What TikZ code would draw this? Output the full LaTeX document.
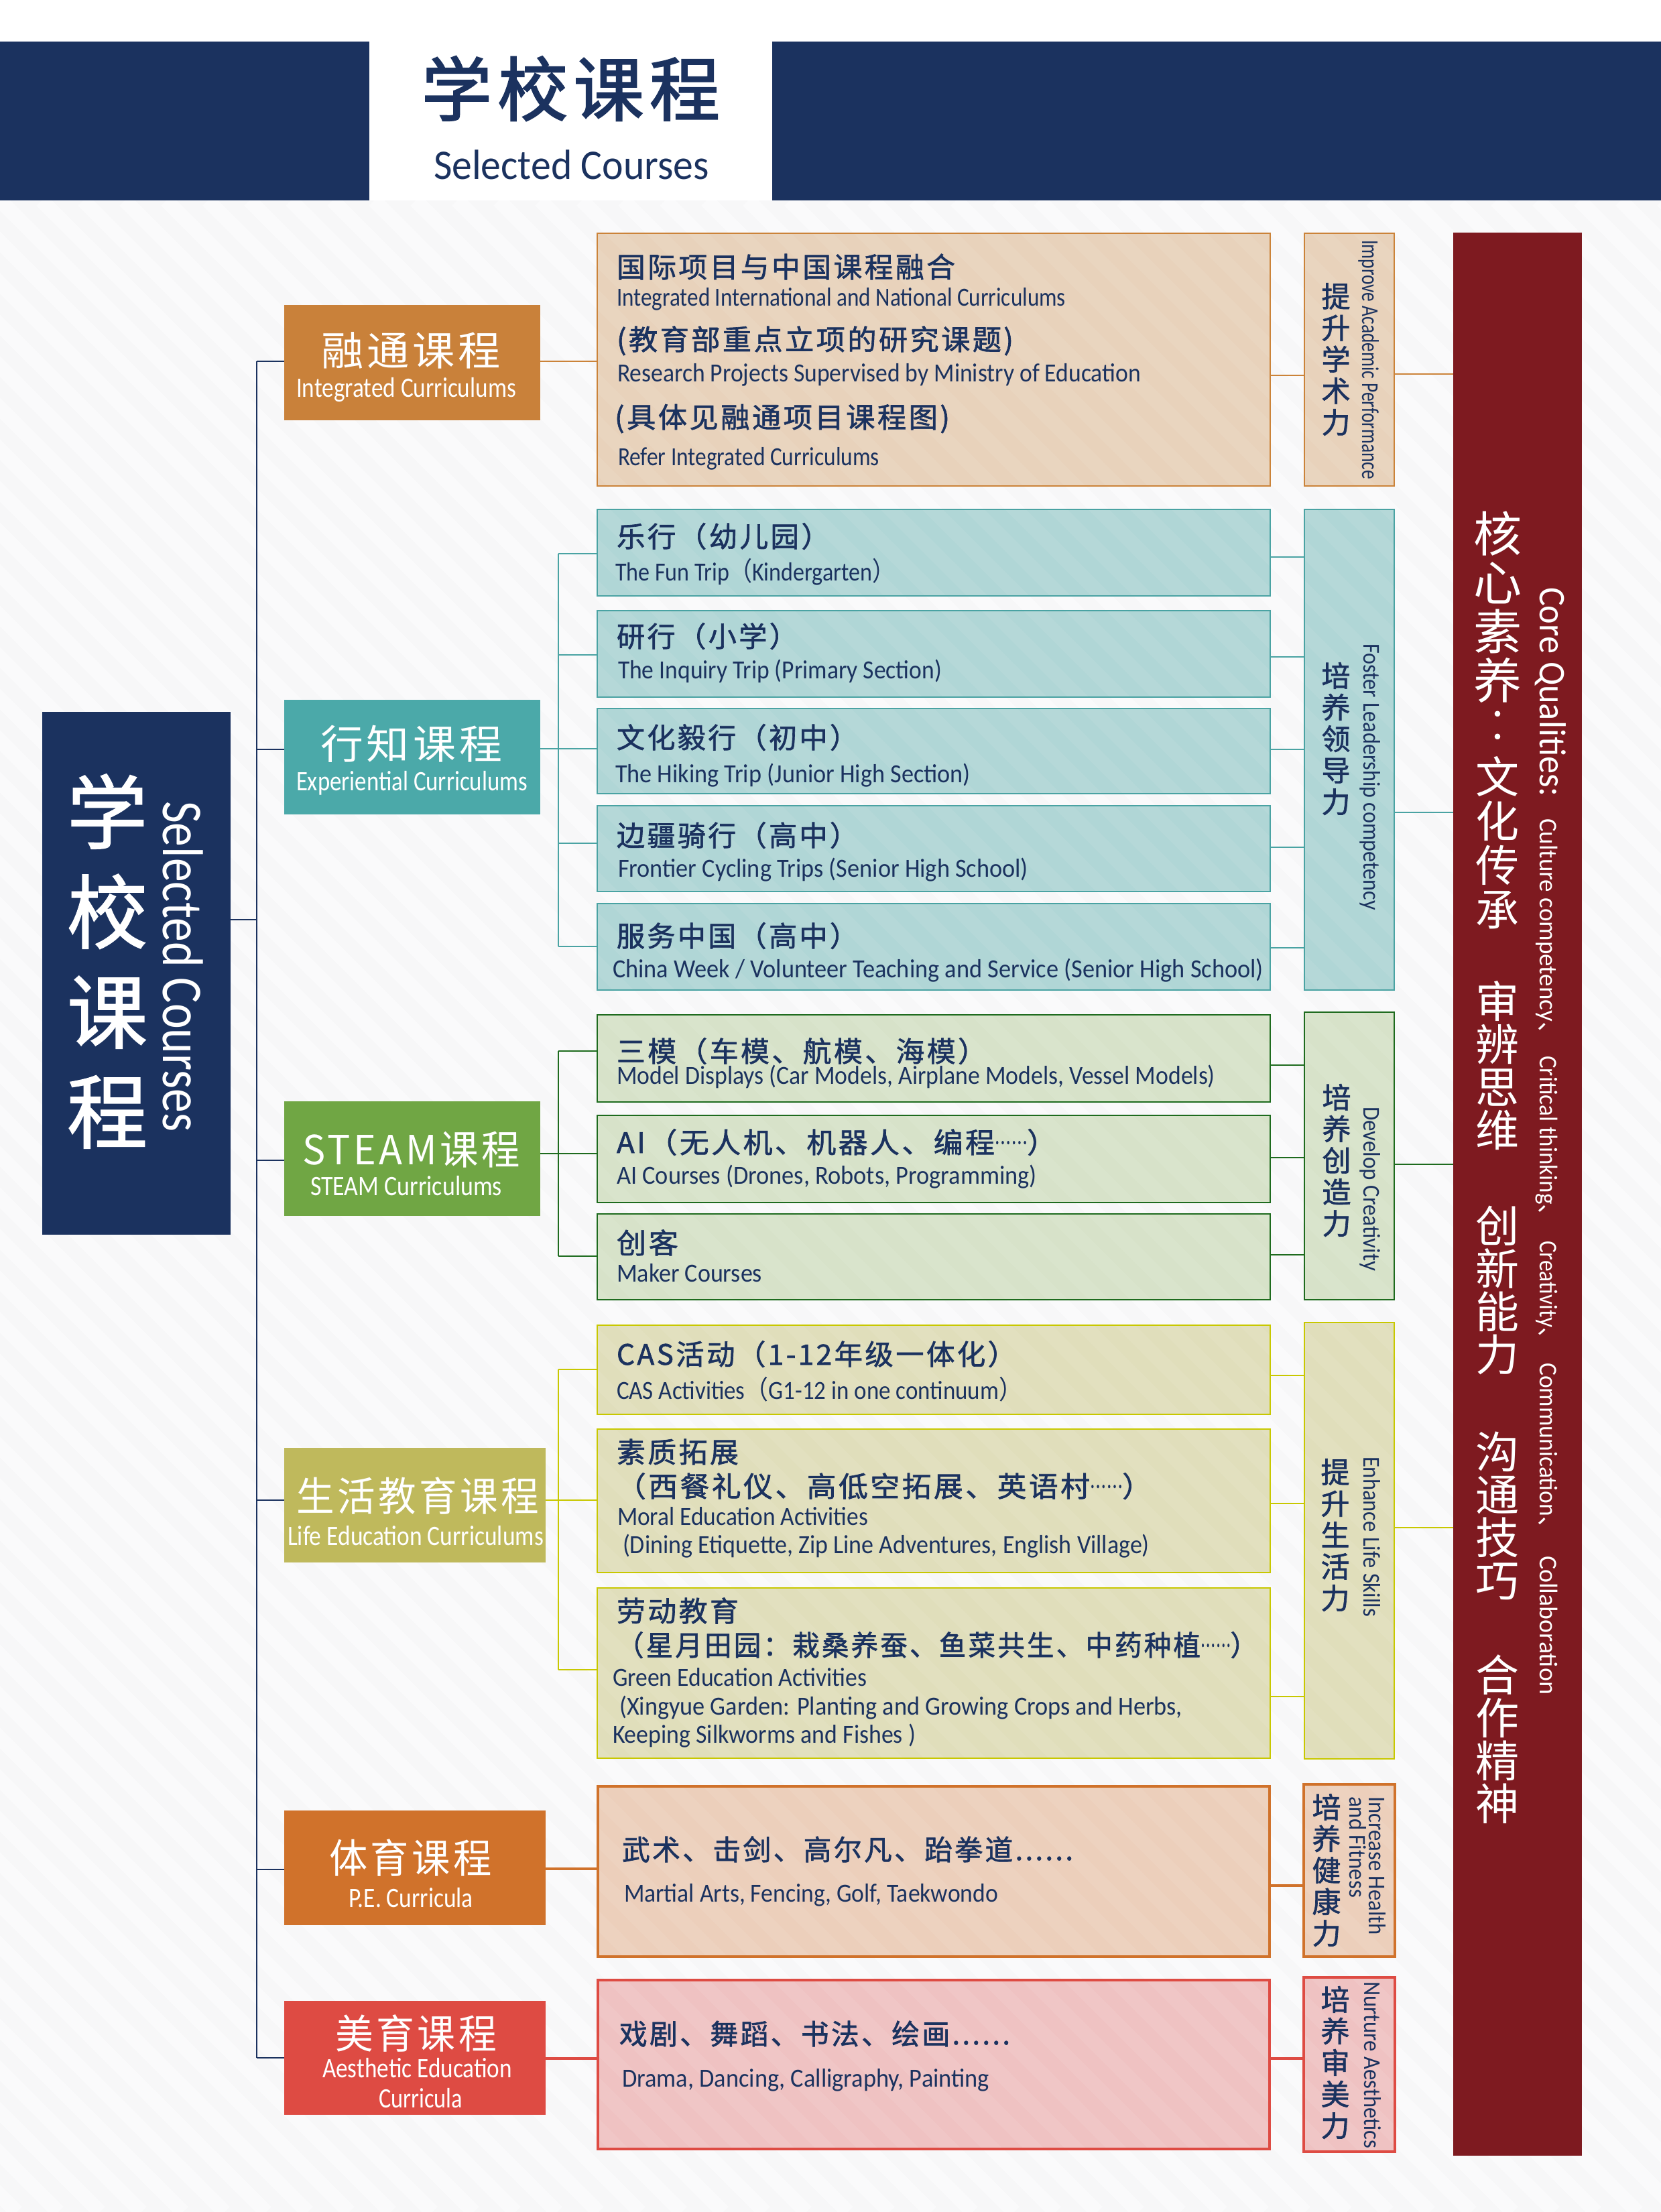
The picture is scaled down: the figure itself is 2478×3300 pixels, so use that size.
\documentclass[tikz,border=0pt]{standalone}
\usepackage{fontspec}
\usepackage{graphicx}
\usetikzlibrary{fit}
\setmainfont{Carlito}
\newfontfamily\zhsp[LetterSpace=8]{Noto Sans CJK SC}
\newfontfamily\zhmd[LetterSpace=8,FakeBold=1.5]{Noto Sans CJK SC}
\newfontfamily\zhhd[LetterSpace=8,FakeBold=2]{Noto Sans CJK SC}
\newfontfamily\zhvr{Noto Sans CJK SC}
\newfontfamily\zhvm[FakeBold=1.5]{Noto Sans CJK SC}
\definecolor{navy}{HTML}{1B325F}
\definecolor{wine}{HTML}{7E1A20}
\definecolor{bgc}{HTML}{F7F7F8}
\definecolor{cOr}{HTML}{C9813A}
\definecolor{cTe}{HTML}{4BA9A9}
\definecolor{cGr}{HTML}{70A644}
\definecolor{cYe}{HTML}{BFB95C}
\definecolor{cPe}{HTML}{D0722B}
\definecolor{cRe}{HTML}{DE4B43}
\definecolor{fOr}{HTML}{E8D2BB}
\definecolor{fTe}{HTML}{B0D6D6}
\definecolor{fGr}{HTML}{D7E2C9}
\definecolor{fYe}{HTML}{E0DEBB}
\definecolor{fPe}{HTML}{ECCFBB}
\definecolor{fRe}{HTML}{EFC2C2}
\definecolor{lOr}{HTML}{CB8339}
\definecolor{lTe}{HTML}{4AA3A3}
\definecolor{lGr}{HTML}{1E6B1E}
\definecolor{lYe}{HTML}{C8C800}
\pgfdeclarelayer{bgl}\pgfdeclarelayer{boxl}\pgfdeclarelayer{stripel}
\pgfsetlayers{bgl,boxl,stripel,main}
\newdimen\pxu \pxu=.5pt
\tikzset{
  txt/.style={inner sep=0,outer sep=0,anchor=base west,text=navy},
  wtxt/.style={txt,text=white},
  rot/.style={rotate=-90},
  stk/.style={inner sep=0,outer sep=0,align=center,text=navy},
  wstk/.style={stk,text=white},
  rstack/.style={stk,font=\zhvm\fontsize{21.5pt}{23.5pt}\selectfont},
  con/.style={line width=1pt,line cap=butt},
}
% light box: fill below the stripes, named border above
\newcommand\LBox[8]{%
  \begin{pgfonlayer}{boxl}\fill[#6] (#2,#3) rectangle (#4,#5);\end{pgfonlayer}
  \coordinate (#1-a) at (#2,#3);\coordinate (#1-b) at (#4,#5);
  \node[fit=(#1-a)(#1-b),inner sep=0,outer sep=0,draw=#7,line width=#8] (#1) {};}
% solid box
\newcommand\SBox[6]{%
  \coordinate (#1-a) at (#2,#3);\coordinate (#1-b) at (#4,#5);
  \node[fit=(#1-a)(#1-b),inner sep=0,outer sep=0,fill=#6] (#1) {};}
% text fitted to a width
\newcommand\T[8][]{\node[txt,#1] (#2) at (#3,#4) {\resizebox{#5\pxu}{\height}{#7\fontsize{#6}{#6}\selectfont #8}};}
% detail heading, fitted to a width
\newcommand\TZ[5]{\node[txt,yshift=-1pt] (#1) at (#2,#3) {\resizebox{#4\pxu}{\height}{\zhmd\fontsize{21pt}{21pt}\selectfont #5}};}
% horizontal link at height y, from a to b
\newcommand\Link[5][]{\coordinate (lkY) at (0,#4);\draw[con,#2,#1] (#3 |- lkY) -- (#5 |- lkY);}
\newcommand\VLine[5][]{\coordinate (lkA) at (0,#4);\coordinate (lkB) at (0,#5);\draw[con,#2,#1] (#3 |- lkA) -- (#3 |- lkB);}
\newcommand\Stripes[1]{\begin{scope}
  \clip (0,299) rectangle (2478,3300);
  \foreach \k in {-50,...,41}{\pgfmathsetmacro\xa{\k*62}\pgfmathsetmacro\xb{\k*62+3001}
    \draw[white,opacity=#1,line width=11pt] (\xa,299) -- (\xb,3300);}
  \end{scope}}
\newcommand\dotsz{\raisebox{.32em}{\scalebox{.5}[.8]{……}}}
\newcommand\fwl{{\zhsp（}}
\newcommand\fwr{{\zhsp）}}
\newcommand\dun{{\zhsp、}}
\begin{document}
\begin{tikzpicture}[x=.5pt,y=-.5pt]
\useasboundingbox (0,0) rectangle (2478,3300);
\begin{pgfonlayer}{bgl}
  \fill[white] (0,0) rectangle (2478,3300);
  \fill[bgc] (0,299) rectangle (2478,3300);
  \Stripes{.45}
\end{pgfonlayer}
\begin{pgfonlayer}{stripel}
  \Stripes{.07}
\end{pgfonlayer}

% header
\SBox{hl}{0}{62}{551}{299}{navy}
\SBox{hr}{1152}{62}{2478}{299}{navy}
\T{htz}{629}{172}{445}{52pt}{\zhhd}{学校课程}
\T{hte}{647}{267}{411}{31.5pt}{}{Selected Courses}

% main box
\SBox{main}{63}{1062}{344}{1842}{navy}
\node[wstk,font=\zhvm\fontsize{60pt}{74.5pt}\selectfont] (mainz) at (160,1434) {学\\校\\课\\程};
\T[wtxt,rot]{maine}{243}{1195}{493}{43pt}{}{Selected Courses}

% category boxes
\SBox{c1}{424}{455}{806}{627}{cOr}
\SBox{c2}{424}{1044}{806}{1215}{cTe}
\SBox{c3}{424}{1643}{806}{1814}{cGr}
\SBox{c4}{424}{2160}{814}{2331}{cYe}
\SBox{c5}{424}{2701}{814}{2872}{cPe}
\SBox{c6}{424}{2985}{814}{3155}{cRe}
\T[wtxt]{c1z}{479}{545}{268}{30pt}{\zhsp}{融通课程}
\T[wtxt]{c1e}{442}{592}{328}{21pt}{}{Integrated Curriculums}
\T[wtxt]{c2z}{478}{1132}{271}{30pt}{\zhsp}{行知课程}
\T[wtxt]{c2e}{442}{1179}{345}{21pt}{}{Experiential Curriculums}
\T[wtxt]{c3z}{451}{1737}{325}{30pt}{\zhsp}{STEAM课程}
\T[wtxt]{c3e}{463}{1783}{286}{21pt}{}{STEAM Curriculums}
\T[wtxt]{c4z}{442}{2254}{362}{30pt}{\zhsp}{生活教育课程}
\T[wtxt]{c4e}{429}{2305}{382}{21pt}{}{Life Education Curriculums}
\T[wtxt]{c5z}{491}{2794}{243}{30pt}{\zhsp}{体育课程}
\T[wtxt]{c5e}{520}{2845}{186}{21pt}{}{P.E. Curricula}
\T[wtxt]{c6z}{500}{3056}{241}{30pt}{\zhsp}{美育课程}
\T[wtxt]{c6e}{481}{3099}{283}{21pt}{}{Aesthetic Education}
\T[wtxt]{c6f}{565}{3144}{125}{21pt}{}{Curricula}

% detail boxes
\LBox{a1}{891}{348}{1895}{725}{fOr}{lOr}{1pt}
\LBox{t1}{891}{760}{1895}{889}{fTe}{lTe}{1pt}
\LBox{t2}{891}{911}{1895}{1040}{fTe}{lTe}{1pt}
\LBox{t3}{891}{1057}{1895}{1184}{fTe}{lTe}{1pt}
\LBox{t4}{891}{1202}{1895}{1330}{fTe}{lTe}{1pt}
\LBox{t5}{891}{1348}{1895}{1477}{fTe}{lTe}{1pt}
\LBox{g1}{891}{1514}{1895}{1644}{fGr}{lGr}{1pt}
\LBox{g2}{891}{1664}{1895}{1794}{fGr}{lGr}{1pt}
\LBox{g3}{891}{1811}{1895}{1939}{fGr}{lGr}{1pt}
\LBox{y1}{891}{1977}{1895}{2110}{fYe}{lYe}{1pt}
\LBox{y2}{891}{2132}{1895}{2346}{fYe}{lYe}{1pt}
\LBox{y3}{891}{2369}{1895}{2623}{fYe}{lYe}{1pt}
\LBox{p1}{892}{2665}{1894}{2919}{fPe}{cPe}{2pt}
\LBox{r1}{892}{2954}{1894}{3206}{fRe}{cRe}{2pt}

% right boxes
\LBox{ra}{1946}{348}{2080}{725}{fOr}{lOr}{1pt}
\LBox{rt}{1946}{760}{2080}{1477}{fTe}{lTe}{1pt}
\LBox{rg}{1946}{1510}{2080}{1939}{fGr}{lGr}{1pt}
\LBox{ry}{1946}{1973}{2080}{2624}{fYe}{lYe}{1pt}
\LBox{rp}{1945}{2662}{2081}{2919}{fPe}{cPe}{2pt}
\LBox{rr}{1945}{2950}{2081}{3210}{fRe}{cRe}{2pt}

% core bar
\SBox{core}{2168}{347}{2360}{3216}{wine}

% detail text
\TZ{a1z}{920}{412}{505}{国际项目与中国课程融合}
\T{a1e}{920}{456}{670}{19.5pt}{}{Integrated International and National Curriculums}
\TZ{a2z}{920}{520}{592}{(教育部重点立项的研究课题)}
\T{a2e}{921}{569}{781}{19.5pt}{}{Research Projects Supervised by Ministry of Education}
\TZ{a3z}{917}{636}{500}{(具体见融通项目课程图)}
\T{a3e}{922}{694}{390}{19.5pt}{}{Refer Integrated Curriculums}

\TZ{t1z}{920}{814}{318}{乐行（幼儿园）}
\T{t1e}{918}{866}{417}{19.5pt}{}{The Fun Trip\fwl Kindergarten\fwr}
\TZ{t2z}{920}{963}{270}{研行（小学）}
\T{t2e}{922}{1012}{483}{19.5pt}{}{The Inquiry Trip (Primary Section)}
\TZ{t3z}{920}{1114}{360}{文化毅行（初中）}
\T{t3e}{918}{1167}{530}{19.5pt}{}{The Hiking Trip (Junior High Section)}
\TZ{t4z}{920}{1260}{360}{边疆骑行（高中）}
\T{t4e}{922}{1308}{612}{19.5pt}{}{Frontier Cycling Trips (Senior High School)}
\TZ{t5z}{920}{1410}{360}{服务中国（高中）}
\T{t5e}{914}{1458}{971}{19.5pt}{}{China Week / Volunteer Teaching and Service (Senior High School)}

\TZ{g1z}{920}{1582}{552}{三模（车模、航模、海模）}
\T{g1e}{920}{1617}{893}{19.5pt}{}{Model Displays (Car Models, Airplane Models, Vessel Models)}
\TZ{g2z}{920}{1718}{656}{AI（无人机、机器人、编程\dotsz）}
\T{g2e}{920}{1766}{627}{19.5pt}{}{AI Courses (Drones, Robots, Programming)}
\TZ{g3z}{920}{1868}{92}{创客}
\T{g3e}{920}{1912}{217}{19.5pt}{}{Maker Courses}

\TZ{y1z}{920}{2034}{596}{CAS活动（1-12年级一体化）}
\T{y1e}{920}{2087}{605}{19.5pt}{}{CAS Activities\fwl G1-12 in one continuum\fwr}
\TZ{y2z}{920}{2180}{182}{素质拓展}
\TZ{y2y}{920}{2231}{798}{（西餐礼仪、高低空拓展、英语村\dotsz）}
\T{y2e}{921}{2275}{374}{19.5pt}{}{Moral Education Activities}
\T{y2f}{929}{2317}{786}{19.5pt}{}{(Dining Etiquette, Zip Line Adventures, English Village)}
\TZ{y3z}{920}{2417}{182}{劳动教育}
\TZ{y3y}{920}{2468}{956}{（星月田园：栽桑养蚕、鱼菜共生、中药种植\dotsz）}
\T{y3e}{914}{2515}{379}{19.5pt}{}{Green Education Activities}
\T{y3f}{924}{2558}{840}{19.5pt}{}{(Xingyue Garden: Planting and Growing Crops and Herbs,}
\T{y3g}{914}{2600}{452}{19.5pt}{}{Keeping Silkworms and Fishes )}

\TZ{p1z}{928}{2773}{673}{武术、击剑、高尔凡、跆拳道......}
\T{p1e}{931}{2837}{558}{19.5pt}{}{Martial Arts, Fencing, Golf, Taekwondo}
\TZ{r1z}{924}{3048}{583}{戏剧、舞蹈、书法、绘画......}
\T{r1e}{928}{3113}{548}{19.5pt}{}{Drama, Dancing, Calligraphy, Painting}

% right box text
\node[rstack] (raz) at (1993,536) {提\\升\\学\\术\\力};
\T[rot]{rae}{2032}{358}{357}{18pt}{}{Improve Academic Performance}
\node[rstack] (rtz) at (1993,1102) {培\\养\\领\\导\\力};
\T[rot]{rte}{2034}{960}{398}{18pt}{}{Foster Leadership competency}
\node[rstack] (rgz) at (1994,1731) {培\\养\\创\\造\\力};
\T[rot]{rge}{2034}{1651}{245}{18pt}{}{Develop Creativity}
\node[rstack] (ryz) at (1992,2290) {提\\升\\生\\活\\力};
\T[rot]{rye}{2034}{2173}{239}{18pt}{}{Enhance Life Skills}
\node[rstack] (rpz) at (1979,2790) {培\\养\\健\\康\\力};
\T[rot]{rpe}{2042}{2680}{207}{18pt}{}{Increase Health}
\T[rot]{rpf}{2013}{2680}{151}{18pt}{}{and Fitness}
\node[rstack] (rrz) at (1992,3077) {培\\养\\审\\美\\力};
\T[rot]{rre}{2035}{2956}{249}{18pt}{}{Nurture Aesthetics}

% core text
\node[wstk,font=\zhvr\fontsize{36pt}{36.5pt}\selectfont] (cz1) at (2234,906) {核\\心\\素\\养};
\node[wstk,font=\zhvr\fontsize{20pt}{20pt}\selectfont] (czc1) at (2234,1071) {·};
\node[wstk,font=\zhvr\fontsize{20pt}{20pt}\selectfont] (czc2) at (2234,1105) {·};
\node[wstk,font=\zhvr\fontsize{32.5pt}{33pt}\selectfont] (cz2) at (2234,1257) {文\\化\\传\\承};
\node[wstk,font=\zhvr\fontsize{32.5pt}{32pt}\selectfont] (cz3) at (2234,1590) {审\\辨\\思\\维};
\node[wstk,font=\zhvr\fontsize{32.5pt}{32pt}\selectfont] (cz4) at (2234,1925) {创\\新\\能\\力};
\node[wstk,font=\zhvr\fontsize{32.5pt}{32pt}\selectfont] (cz5) at (2234,2261) {沟\\通\\技\\巧};
\node[wstk,font=\zhvr\fontsize{32.5pt}{32pt}\selectfont] (cz6) at (2234,2595) {合\\作\\精\\神};
\T[wtxt,rot]{ce1}{2297}{876}{313}{28pt}{}{Core Qualities:}
\T[wtxt,rot]{ce2}{2297}{1221}{340}{19pt}{}{Culture competency\dun}
\T[wtxt,rot]{ce3}{2297}{1575}{257}{19pt}{}{Critical thinking\dun}
\T[wtxt,rot]{ce4}{2297}{1851}{163}{19pt}{}{Creativity\dun}
\T[wtxt,rot]{ce5}{2297}{2033}{265}{19pt}{}{Communication\dun}
\T[wtxt,rot]{ce6}{2297}{2321}{207}{19pt}{}{Collaboration}

% connectors
\coordinate (trunk) at (383,0);
\coordinate (tbus) at (833,0);
\Link{navy}{main.east}{1372}{trunk}
\VLine[line width=1.2pt]{navy}{trunk}{539}{3070}
\Link{navy}{trunk}{539}{c1.west}
\Link{navy}{trunk}{1118}{c2.west}
\Link{navy}{trunk}{1731}{c3.west}
\Link{navy}{trunk}{2238}{c4.west}
\Link{navy}{trunk}{2789}{c5.west}
\Link{navy}{trunk}{3070}{c6.west}

\Link{lOr}{c1.east}{539}{a1.west}
\Link{lOr}{a1.east}{560}{ra.west}
\Link{lOr}{ra.east}{558}{core.west}

\Link{lTe}{c2.east}{1117}{t3.west}
\VLine{lTe}{tbus}{826}{1412}
\Link{lTe}{tbus}{826}{t1.west}
\Link{lTe}{tbus}{977}{t2.west}
\Link{lTe}{tbus}{1258}{t4.west}
\Link{lTe}{tbus}{1412}{t5.west}
\Link{lTe}{t1.east}{831}{rt.west}
\Link{lTe}{t2.east}{980}{rt.west}
\Link{lTe}{t3.east}{1118}{rt.west}
\Link{lTe}{t4.east}{1264}{rt.west}
\Link{lTe}{t5.east}{1414}{rt.west}
\Link{lTe}{rt.east}{1212}{core.west}

\Link{lGr}{c3.east}{1721}{g2.west}
\VLine{lGr}{tbus}{1568}{1874}
\Link{lGr}{tbus}{1568}{g1.west}
\Link{lGr}{tbus}{1874}{g3.west}
\Link{lGr}{g1.east}{1589}{rg.west}
\Link{lGr}{g2.east}{1727}{rg.west}
\Link{lGr}{g3.east}{1872}{rg.west}
\Link{lGr}{rg.east}{1737}{core.west}

\Link{lYe}{c4.east}{2238}{y2.west}
\VLine{lYe}{tbus}{2043}{2491}
\Link{lYe}{tbus}{2043}{y1.west}
\Link{lYe}{tbus}{2491}{y3.west}
\Link{lYe}{y1.east}{2052}{ry.west}
\Link{lYe}{y2.east}{2243}{ry.west}
\Link{lYe}{y3.east}{2531}{ry.west}
\Link{lYe}{ry.east}{2279}{core.west}

\Link[line width=2pt]{cPe}{c5.east}{2788}{p1.west}
\Link[line width=2pt]{cPe}{p1.east}{2813}{rp.west}
\Link[line width=2pt]{cRe}{c6.east}{3071}{r1.west}
\Link[line width=2pt]{cRe}{r1.east}{3071}{rr.west}
\end{tikzpicture}
\end{document}
